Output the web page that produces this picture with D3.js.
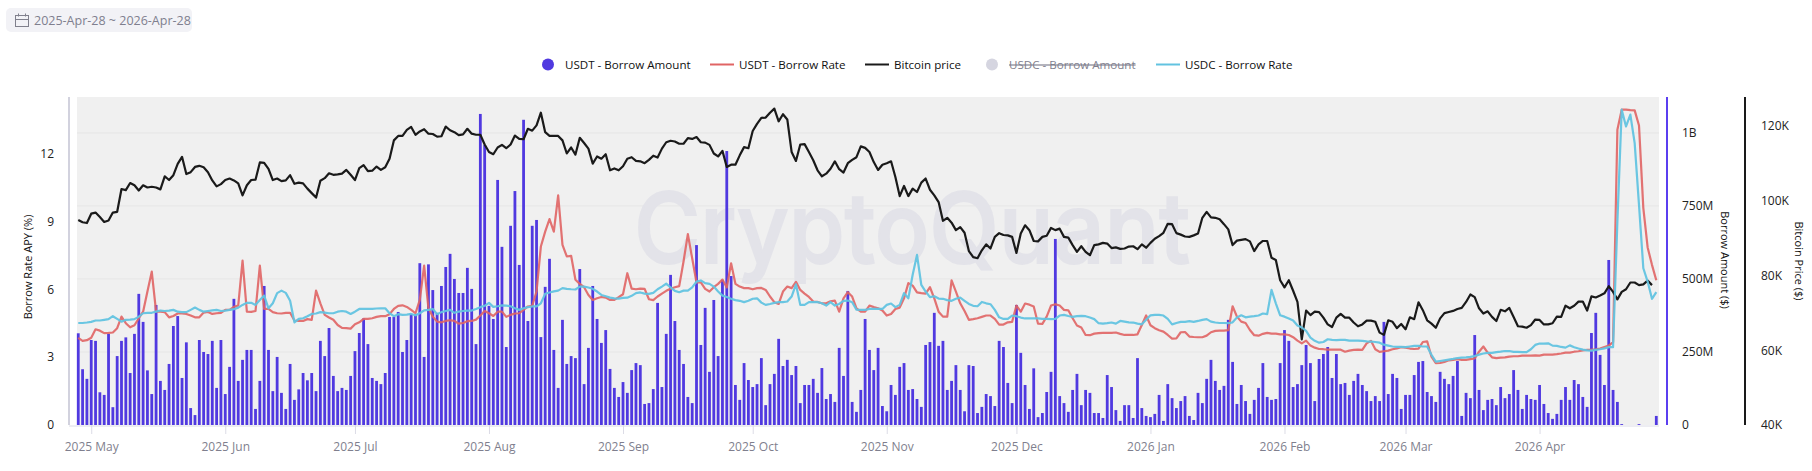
<!DOCTYPE html>
<html>
<head>
<meta charset="utf-8">
<script src="https://cdn.jsdelivr.net/npm/d3@7"></script>
<style>
    html, body { margin: 0; padding: 0; background: #fff; }
    svg { display: block; }
    text { font-family: "Open Sans", "Noto Sans", sans-serif; }
    .domain { display: none; }
</style>
</head>
<body>
<svg id="chart" width="1812" height="471"></svg>
<script>
/*
 Borrow amount, borrow rates and bitcoin price, one value per day from 2025-04-28
 */
var firstDay = "2025-04-28";

// USDT borrow amount, millions of dollars
var usdtAmount = [
    314, 191, 158, 291, 288, 112, 103, 312, 61, 236,
    288, 300, 178, 312, 449, 353, 187, 106, 411, 151,
    120, 209, 339, 373, 161, 283, 58, 34, 291, 250,
    243, 288, 127, 291, 106, 199, 432, 151, 223, 257,
    257, 55, 151, 476, 257, 116, 233, 110, 55, 209,
    86, 122, 178, 153, 178, 116, 288, 236, 332, 168,
    116, 127, 120, 168, 253, 315, 365, 277, 161, 151,
    140, 178, 370, 370, 387, 250, 291, 380, 380, 554,
    233, 550, 462, 384, 476, 541, 586, 500, 452, 452,
    538, 466, 277, 1065, 959, 408, 363, 839, 610, 267,
    682, 801, 548, 1045, 356, 682, 702, 301, 473, 569,
    257, 127, 360, 209, 236, 229, 534, 140, 264, 476,
    363, 281, 325, 192, 127, 96, 147, 110, 188, 212,
    205, 72, 75, 123, 418, 130, 312, 514, 356, 257,
    209, 96, 75, 616, 274, 401, 182, 428, 236, 497,
    938, 510, 137, 86, 212, 154, 130, 140, 229, 68,
    140, 175, 295, 202, 223, 171, 202, 75, 137, 137,
    158, 110, 195, 89, 106, 79, 264, 168, 459, 79,
    45, 120, 363, 257, 188, 264, 65, 47, 137, 103,
    199, 212, 120, 123, 89, 62, 274, 284, 384, 271,
    288, 120, 151, 205, 120, 47, 205, 202, 41, 62,
    106, 99, 65, 288, 267, 144, 75, 411, 247, 137,
    55, 194, 27, 41, 113, 182, 637, 99, 75, 45,
    120, 175, 68, 120, 110, 41, 41, 24, 171, 130,
    51, 14, 68, 68, 24, 229, 58, 31, 27, 38,
    103, 14, 140, 92, 58, 82, 99, 31, 17, 110,
    75, 158, 223, 151, 120, 134, 360, 216, 72, 137,
    82, 38, 86, 127, 212, 96, 86, 89, 212, 325,
    288, 130, 140, 205, 274, 212, 82, 226, 243, 267,
    161, 243, 140, 144, 103, 151, 175, 137, 116, 82,
    99, 82, 353, 106, 175, 161, 55, 103, 103, 171,
    216, 219, 113, 99, 79, 182, 158, 140, 168, 219,
    31, 110, 92, 308, 120, 51, 86, 89, 68, 130,
    92, 106, 188, 120, 55, 103, 89, 86, 137, 72,
    41, 21, 38, 86, 130, 86, 154, 140, 96, 62,
    315, 384, 240, 137, 565, 120, 79, 3, 0, 0,
    0, 3, 0, 0, 0, 31
];

// USDT borrow rate, percent
var usdtRate = [
    3.85, 3.72, 3.75, 3.86, 4.23, 4.17, 4.06, 4.07, 4.09, 4.28,
    4.79, 4.50, 4.32, 4.41, 4.72, 5.01, 5.90, 6.78, 5.01, 5.01,
    4.99, 4.76, 4.82, 4.93, 4.93, 4.91, 4.84, 4.76, 4.76, 4.97,
    5.00, 4.91, 4.94, 4.96, 5.09, 5.09, 5.22, 5.28, 7.27, 5.01,
    5.00, 5.04, 7.05, 5.13, 5.13, 4.99, 4.94, 4.93, 4.96, 4.96,
    4.62, 4.60, 4.60, 4.68, 4.65, 5.94, 5.38, 4.87, 4.75, 4.65,
    4.42, 4.29, 4.28, 4.26, 4.45, 4.54, 4.69, 4.69, 4.72, 4.78,
    4.81, 4.81, 4.90, 5.13, 5.27, 5.29, 5.22, 5.09, 4.94, 5.53,
    7.05, 5.16, 4.79, 4.57, 4.54, 4.60, 4.63, 4.60, 4.48, 4.51,
    4.59, 4.60, 4.66, 4.84, 5.04, 4.94, 4.82, 5.01, 5.01, 4.78,
    4.87, 4.93, 4.94, 5.09, 5.24, 5.27, 5.90, 7.89, 8.55, 9.10,
    8.55, 10.15, 7.96, 7.45, 7.48, 6.42, 6.24, 6.09, 5.75, 5.53,
    5.60, 5.66, 5.63, 5.53, 5.53, 5.65, 5.78, 6.71, 6.03, 6.00,
    6.03, 6.02, 5.56, 5.52, 5.68, 5.81, 5.93, 6.02, 6.09, 6.14,
    7.23, 8.44, 7.37, 6.30, 6.30, 6.02, 5.90, 6.09, 6.24, 6.43,
    6.08, 7.15, 6.24, 6.12, 6.05, 6.05, 6.00, 6.05, 6.06, 5.97,
    5.68, 5.43, 5.35, 5.90, 6.12, 6.05, 6.33, 5.97, 5.81, 5.66,
    5.46, 5.44, 5.38, 5.38, 5.47, 5.50, 5.01, 5.60, 5.87, 5.68,
    5.16, 5.01, 5.01, 5.28, 5.21, 5.16, 5.06, 4.84, 4.91, 5.13,
    5.19, 5.60, 6.27, 6.16, 5.86, 5.83, 5.81, 6.09, 5.60, 5.01,
    4.79, 4.79, 6.39, 5.90, 5.38, 5.04, 4.65, 4.68, 4.72, 4.78,
    4.84, 4.84, 4.69, 4.44, 4.44, 4.54, 4.56, 5.28, 5.01, 5.37,
    5.32, 5.24, 4.48, 4.47, 4.79, 5.28, 5.34, 5.28, 5.09, 5.07,
    4.72, 4.40, 4.31, 3.98, 3.97, 4.04, 4.06, 4.07, 4.07, 4.07,
    4.09, 4.03, 3.98, 3.98, 3.98, 4.01, 4.42, 4.84, 4.41, 4.28,
    4.19, 4.13, 3.98, 3.82, 3.83, 4.10, 4.11, 3.91, 3.89, 3.88,
    3.88, 3.95, 4.10, 4.16, 4.17, 4.17, 4.19, 5.25, 4.79, 4.57,
    4.51, 4.20, 3.97, 3.95, 4.03, 4.07, 4.04, 4.04, 4.01, 4.01,
    3.98, 3.88, 3.73, 3.61, 3.73, 3.51, 3.42, 3.36, 3.35, 3.33,
    3.33, 3.33, 3.33, 3.24, 3.29, 3.32, 3.33, 3.32, 3.61, 3.72,
    3.35, 3.23, 3.26, 3.29, 3.35, 3.39, 3.44, 3.42, 3.38, 3.36,
    3.38, 3.67, 3.70, 3.02, 2.73, 2.74, 2.79, 2.86, 2.88, 2.91,
    2.88, 2.88, 2.91, 2.94, 3.24, 3.47, 3.20, 2.99, 2.96, 2.98,
    2.99, 3.02, 3.04, 3.04, 3.07, 3.07, 3.07, 3.08, 3.07, 3.11,
    3.11, 3.11, 3.13, 3.16, 3.20, 3.20, 3.24, 3.26, 3.30, 3.32,
    3.33, 3.35, 3.38, 3.45, 3.51, 3.66, 13.05, 13.94, 13.94, 13.92,
    13.91, 13.24, 9.59, 7.85, 7.08, 6.40
];

// USDC borrow rate, percent
var usdcRate = [
    4.51, 4.51, 4.53, 4.56, 4.62, 4.62, 4.65, 4.68, 4.81, 4.69,
    4.57, 4.65, 4.66, 4.68, 4.79, 4.94, 4.96, 4.96, 5.01, 5.06,
    5.04, 5.06, 5.09, 5.01, 4.99, 4.99, 5.09, 5.19, 5.09, 5.01,
    5.04, 5.07, 5.09, 5.04, 5.06, 5.09, 5.12, 5.19, 5.31, 5.40,
    5.40, 5.31, 5.53, 5.72, 5.16, 5.38, 5.83, 5.94, 5.84, 5.49,
    4.54, 4.69, 4.72, 4.81, 4.91, 4.93, 4.99, 4.97, 4.94, 4.94,
    5.01, 5.04, 5.01, 4.91, 5.01, 5.13, 5.13, 5.13, 5.13, 5.15,
    5.16, 5.16, 4.94, 4.81, 4.90, 4.87, 4.88, 4.91, 4.85, 4.94,
    5.07, 5.09, 5.13, 4.90, 4.99, 5.04, 5.09, 4.96, 5.01, 5.04,
    5.06, 5.06, 5.13, 5.21, 5.27, 5.40, 5.22, 5.25, 5.29, 5.28,
    5.25, 5.16, 5.09, 5.16, 5.21, 5.24, 5.24, 5.38, 5.80, 5.86,
    5.91, 5.94, 6.05, 6.02, 6.00, 5.99, 6.12, 6.12, 6.08, 6.02,
    5.90, 5.75, 5.69, 5.63, 5.60, 5.59, 5.62, 5.63, 5.71, 5.83,
    5.86, 5.81, 5.80, 5.84, 6.00, 6.12, 6.25, 6.08, 5.93, 5.87,
    5.94, 5.94, 6.08, 6.34, 6.39, 6.27, 6.24, 6.12, 5.90, 5.72,
    5.66, 5.58, 5.52, 5.49, 5.43, 5.49, 5.58, 5.60, 5.41, 5.31,
    5.35, 5.40, 5.43, 5.43, 5.46, 5.68, 6.22, 5.31, 5.31, 5.43,
    5.43, 5.43, 5.38, 5.28, 5.43, 5.28, 5.35, 5.49, 5.50, 5.43,
    5.10, 5.09, 5.09, 5.13, 5.13, 5.13, 5.13, 5.31, 5.37, 5.21,
    5.31, 5.83, 5.60, 6.64, 7.52, 6.19, 5.90, 5.65, 5.69, 5.59,
    5.58, 5.52, 5.49, 5.58, 5.63, 5.49, 5.35, 5.27, 5.25, 5.44,
    5.38, 5.34, 5.09, 4.76, 4.69, 4.69, 4.84, 4.81, 4.75, 4.71,
    4.72, 4.71, 4.71, 4.69, 4.69, 4.68, 4.69, 4.84, 4.87, 4.82,
    4.78, 4.81, 4.82, 4.81, 4.75, 4.68, 4.50, 4.48, 4.50, 4.53,
    4.48, 4.60, 4.57, 4.54, 4.53, 4.48, 4.45, 4.65, 4.85, 4.87,
    4.87, 4.84, 4.69, 4.45, 4.51, 4.56, 4.56, 4.59, 4.56, 4.60,
    4.65, 4.68, 4.57, 4.53, 4.51, 4.51, 4.50, 4.54, 4.75, 4.85,
    4.76, 4.79, 4.81, 4.84, 4.93, 4.90, 5.97, 5.38, 4.85, 4.79,
    4.71, 4.62, 4.40, 4.31, 4.16, 3.86, 3.72, 3.64, 3.67, 3.79,
    3.76, 3.75, 3.76, 3.76, 3.73, 3.73, 3.73, 3.72, 3.70, 3.69,
    3.67, 3.64, 3.55, 3.51, 3.47, 3.45, 3.45, 3.44, 3.47, 3.50,
    3.50, 3.47, 3.47, 3.10, 2.80, 2.83, 2.86, 2.89, 2.92, 2.96,
    2.98, 2.99, 3.01, 3.05, 3.11, 3.16, 3.19, 3.19, 3.22, 3.24,
    3.27, 3.27, 3.23, 3.23, 3.22, 3.22, 3.35, 3.54, 3.60, 3.60,
    3.61, 3.51, 3.50, 3.45, 3.42, 3.52, 3.44, 3.38, 3.33, 3.30,
    3.29, 3.32, 3.35, 3.39, 3.44, 3.44, 9.00, 13.94, 13.20, 13.72,
    12.46, 9.73, 6.93, 6.34, 5.58, 5.87
];

// Bitcoin price, thousands of dollars (the last day has no price)
var btcPrice = [
    94.8, 94.2, 94.0, 96.5, 96.8, 95.6, 94.3, 94.7, 96.8, 97.0,
    103.1, 102.8, 104.7, 104.1, 102.7, 104.1, 103.5, 103.7, 103.5, 103.0,
    106.5, 105.5, 106.8, 109.8, 111.7, 107.1, 107.6, 109.0, 109.3, 108.9,
    107.6, 105.4, 103.8, 104.4, 105.5, 105.9, 105.4, 104.6, 101.4, 104.1,
    105.5, 105.6, 110.2, 110.1, 108.5, 105.5, 105.9, 105.2, 105.4, 106.8,
    104.5, 104.8, 104.6, 103.2, 102.0, 100.8, 105.3, 106.0, 107.3, 106.9,
    107.0, 107.2, 108.2, 106.9, 105.5, 108.7, 109.5, 107.9, 108.0, 109.1,
    108.2, 108.9, 111.2, 116.1, 117.3, 117.3, 118.9, 119.7, 117.6, 118.5,
    119.1, 117.9, 117.8, 117.1, 117.2, 119.8, 118.8, 118.3, 117.5, 117.7,
    119.2, 117.9, 117.6, 117.6, 115.0, 113.0, 112.4, 114.2, 114.9, 114.0,
    115.0, 117.4, 116.5, 116.4, 119.2, 118.7, 120.1, 123.5, 118.3, 117.3,
    117.3, 117.3, 116.1, 112.6, 114.2, 112.3, 116.8, 115.4, 113.9, 109.9,
    111.8, 111.2, 112.4, 108.1, 108.6, 108.1, 109.2, 111.2, 111.6, 110.6,
    110.5, 110.0, 110.9, 112.0, 111.5, 113.9, 115.6, 116.0, 115.8, 115.2,
    115.2, 116.7, 116.5, 117.0, 115.6, 115.5, 114.9, 112.6, 111.8, 113.3,
    109.0, 109.6, 109.6, 112.1, 114.3, 114.0, 118.6, 120.5, 122.1, 122.2,
    123.5, 124.6, 121.2, 123.1, 121.7, 113.0, 110.6, 115.0, 115.1, 113.0,
    110.8, 108.1, 106.5, 107.2, 108.5, 110.5, 108.4, 107.5, 110.0, 110.9,
    111.6, 114.5, 114.1, 113.0, 110.3, 108.2, 109.6, 110.0, 110.5, 106.3,
    101.2, 103.9, 101.2, 103.2, 102.3, 104.8, 105.9, 102.9, 101.4, 99.6,
    94.6, 95.4, 94.1, 92.1, 92.9, 91.4, 86.5, 84.9, 84.6, 86.7,
    88.3, 87.2, 90.3, 91.3, 90.8, 90.7, 90.3, 86.0, 91.2, 93.4,
    92.1, 89.2, 89.1, 90.3, 90.6, 92.7, 92.1, 92.5, 90.3, 90.1,
    88.1, 86.3, 87.8, 86.3, 85.4, 88.1, 88.3, 88.7, 88.5, 87.3,
    87.5, 87.1, 87.2, 87.7, 87.8, 87.0, 88.3, 87.4, 88.7, 89.8,
    90.5, 91.4, 93.8, 93.7, 91.3, 90.9, 90.4, 90.3, 90.7, 91.2,
    95.4, 97.0, 95.5, 95.4, 95.0, 93.7, 92.3, 88.1, 89.3, 89.5,
    89.7, 89.1, 86.5, 88.3, 89.2, 89.2, 84.7, 84.1, 78.7, 76.8,
    78.7, 75.9, 72.9, 62.9, 70.6, 69.4, 70.3, 70.2, 68.7, 66.9,
    66.2, 68.7, 69.7, 68.7, 68.7, 67.4, 66.4, 66.9, 67.9, 67.9,
    67.6, 64.7, 64.1, 68.0, 67.6, 65.9, 67.0, 65.6, 68.8, 68.3,
    72.8, 70.7, 68.0, 67.1, 66.0, 68.5, 69.9, 70.2, 70.5, 71.0,
    71.3, 72.9, 74.9, 74.2, 71.2, 69.8, 70.4, 68.9, 67.8, 70.8,
    70.4, 71.3, 68.9, 66.4, 66.3, 66.0, 66.7, 68.2, 68.1, 66.9,
    66.9, 67.2, 69.0, 68.9, 71.9, 71.2, 71.9, 73.0, 73.0, 70.6,
    74.4, 74.1, 74.6, 75.2, 77.1, 75.6, 73.6, 75.6, 76.3, 78.1,
    78.1, 77.4, 77.6, 78.6, 77.4
];

var rateTicks = [0, 3, 6, 9, 12];
var amountTicks = [0, 250, 500, 750, 1000];
var btcTicks = [40, 60, 80, 100, 120];
var monthTicks = [
    "2025-05-01", "2025-06-01", "2025-07-01", "2025-08-01", "2025-09-01", "2025-10-01",
    "2025-11-01", "2025-12-01", "2026-01-01", "2026-02-01", "2026-03-01", "2026-04-01"
];
var legendLabels = ["USDT - Borrow Amount", "USDT - Borrow Rate", "Bitcoin price", "USDC - Borrow Amount", "USDC - Borrow Rate"];

var barColor = "#5039e0", redColor = "#e06464", blueColor = "#62c3e0", blackColor = "#1a1a1a";

var parseDay = d3.utcParse("%Y-%m-%d");
var formatMonth = d3.utcFormat("%Y %b");
var days = usdtAmount.map(function (d, i) {
    return d3.utcDay.offset(parseDay(firstDay), i);
});

var shape = {left: 77, right: 1659, top: 97, bottom: 425};

var x = d3.scaleTime()
    .domain([new Date(Date.UTC(2025, 3, 27, 17)), new Date(Date.UTC(2026, 3, 28, 15))])
    .range([shape.left, shape.right]);
var rateY = d3.scaleLinear().domain([0, 14.5]).range([shape.bottom, shape.top]);
var amountY = d3.scaleLinear().domain([0, 1123]).range([shape.bottom, shape.top]);
var btcY = d3.scaleLinear().domain([40, 127.7]).range([shape.bottom, shape.top]);

var svg = d3.select("#chart");

// Date range pill at the top left
var pill = svg.append("g");
pill.append("rect")
    .attr("x", 6).attr("y", 8)
    .attr("width", 186).attr("height", 24)
    .attr("rx", 5)
    .attr("fill", "#f2f2f6");
var calendar = pill.append("g")
    .attr("fill", "none")
    .attr("stroke", "#80808c")
    .attr("stroke-width", 1);
calendar.append("rect").attr("x", 15.5).attr("y", 15.5).attr("width", 13).attr("height", 11);
calendar.append("path").attr("d", "M15.5 19.5H28.5M18.5 13.5V16.5M25.5 13.5V16.5");
pill.append("text")
    .attr("x", 34).attr("y", 25)
    .attr("font-size", 12.5)
    .attr("fill", "#7f7f8e")
    .text("2025-Apr-28 ~ 2026-Apr-28");

// Legend
var legend = svg.append("g").attr("font-size", 11.6);
function legendText(xPos, label, hidden) {
    legend.append("text")
        .attr("x", xPos).attr("y", 69)
        .attr("fill", hidden ? "#7f7f8e" : "#111")
        .attr("text-decoration", hidden ? "line-through" : null)
        .text(label);
}
function legendDot(xPos, color) {
    legend.append("circle").attr("cx", xPos).attr("cy", 64.5).attr("r", 6).attr("fill", color);
}
function legendLine(xPos, color) {
    legend.append("line")
        .attr("x1", xPos).attr("x2", xPos + 24)
        .attr("y1", 64.5).attr("y2", 64.5)
        .attr("stroke", color).attr("stroke-width", 2);
}
legendDot(548, barColor);
legendText(565, legendLabels[0]);
legendLine(710, redColor);
legendText(739, legendLabels[1]);
legendLine(865, blackColor);
legendText(894, legendLabels[2]);
legendDot(992, "#d5d5e0");
legendText(1009, legendLabels[3], true);
legendLine(1156, blueColor);
legendText(1185, legendLabels[4]);

// Plot background, grid and watermark
svg.append("rect")
    .attr("x", shape.left).attr("y", shape.top)
    .attr("width", shape.right - shape.left)
    .attr("height", shape.bottom - shape.top)
    .attr("fill", "#f0f0f0");

svg.append("g").selectAll("line")
    .data(amountTicks.slice(1))
    .enter()
    .append("line")
    .attr("x1", shape.left).attr("x2", shape.right)
    .attr("y1", function (d) { return amountY(d); })
    .attr("y2", function (d) { return amountY(d); })
    .attr("stroke", "#e6e6e6")
    .attr("stroke-width", 1);

svg.append("text")
    .attr("x", 912).attr("y", 263)
    .attr("text-anchor", "middle")
    .attr("font-size", 98)
    .attr("font-weight", 500)
    .attr("textLength", 556)
    .attr("lengthAdjust", "spacingAndGlyphs")
    .attr("fill", "#e3e3e9")
    .attr("stroke", "#e3e3e9")
    .attr("stroke-width", 2)
    .style("font-family", "Inter, Roboto, sans-serif")
    .text("CryptoQuant");

// Bars
svg.append("g").selectAll("rect")
    .data(usdtAmount)
    .enter()
    .append("rect")
    .attr("x", function (d, i) { return x(days[i]) - 1.4; })
    .attr("y", function (d) { return amountY(d); })
    .attr("width", 2.8)
    .attr("height", function (d) { return shape.bottom - amountY(d); })
    .attr("fill", barColor);

// Lines
function drawLine(values, scale, color, opacity) {
    var line = d3.line()
        .x(function (d, i) { return x(days[i]); })
        .y(function (d) { return scale(d); });
    svg.append("path")
        .attr("d", line(values))
        .attr("fill", "none")
        .attr("stroke", color)
        .attr("stroke-opacity", opacity)
        .attr("stroke-width", 2.2)
        .attr("stroke-linejoin", "round");
}
drawLine(usdtRate, rateY, redColor, 0.9);
drawLine(btcPrice, btcY, blackColor, 1);
drawLine(usdcRate, rateY, blueColor, 0.95);

// Axes
var xAxis = d3.axisBottom(x)
    .tickValues(monthTicks.map(function (d) { return parseDay(d); }))
    .tickFormat(formatMonth)
    .tickSize(9)
    .tickPadding(8);
var xGroup = svg.append("g")
    .attr("transform", "translate(0," + shape.bottom + ")")
    .call(xAxis);
xGroup.selectAll("line").attr("stroke", "#dcdce6");
xGroup.selectAll("text").attr("fill", "#7f7f8e").attr("font-size", 12);
xGroup.selectAll("text").style("font-family", '"Open Sans", sans-serif');

function yAxisStyle(group) {
    group.selectAll("line").remove();
    group.selectAll("text").attr("fill", "#222").attr("font-size", 12);
    group.selectAll("text").style("font-family", '"Open Sans", sans-serif');
}

svg.append("g")
    .attr("transform", "translate(69,0)")
    .call(d3.axisLeft(rateY).tickValues(rateTicks).tickSize(0).tickPadding(15).tickFormat(d3.format("d")))
    .call(yAxisStyle);

svg.append("g")
    .attr("transform", "translate(1667,0)")
    .call(d3.axisRight(amountY).tickValues(amountTicks).tickSize(0).tickPadding(15)
        .tickFormat(function (d) {
            if (d === 0) {
                return "0";
            }
            return d >= 1000 ? d / 1000 + "B" : d + "M";
        }))
    .call(yAxisStyle);

svg.append("g")
    .attr("transform", "translate(1745,0)")
    .call(d3.axisRight(btcY).tickValues(btcTicks).tickSize(0).tickPadding(16)
        .tickFormat(function (d) { return d + "K"; }))
    .call(yAxisStyle);

function axisLine(xPos, color) {
    svg.append("line")
        .attr("x1", xPos).attr("x2", xPos)
        .attr("y1", shape.top).attr("y2", shape.bottom)
        .attr("stroke", color)
        .attr("stroke-width", 2);
}
axisLine(69, "#d2d2de");
axisLine(1667, "#5b3ff0");
axisLine(1745, "#1a1a1a");

svg.append("line")
    .attr("x1", 69).attr("x2", shape.right)
    .attr("y1", shape.bottom + 1).attr("y2", shape.bottom + 1)
    .attr("stroke", "#dcdce6")
    .attr("stroke-width", 1);

function axisTitle(xPos, yPos, angle, label) {
    svg.append("text")
        .attr("transform", "translate(" + xPos + "," + yPos + ") rotate(" + angle + ")")
        .attr("text-anchor", "middle")
        .attr("font-size", 11)
        .attr("fill", "#111")
        .text(label);
}
axisTitle(32, 267, -90, "Borrow Rate APY (%)");
axisTitle(1721, 260, 90, "Borrow Amount ($)");
axisTitle(1795, 261, 90, "Bitcoin Price ($)");
</script>
</body>
</html>
